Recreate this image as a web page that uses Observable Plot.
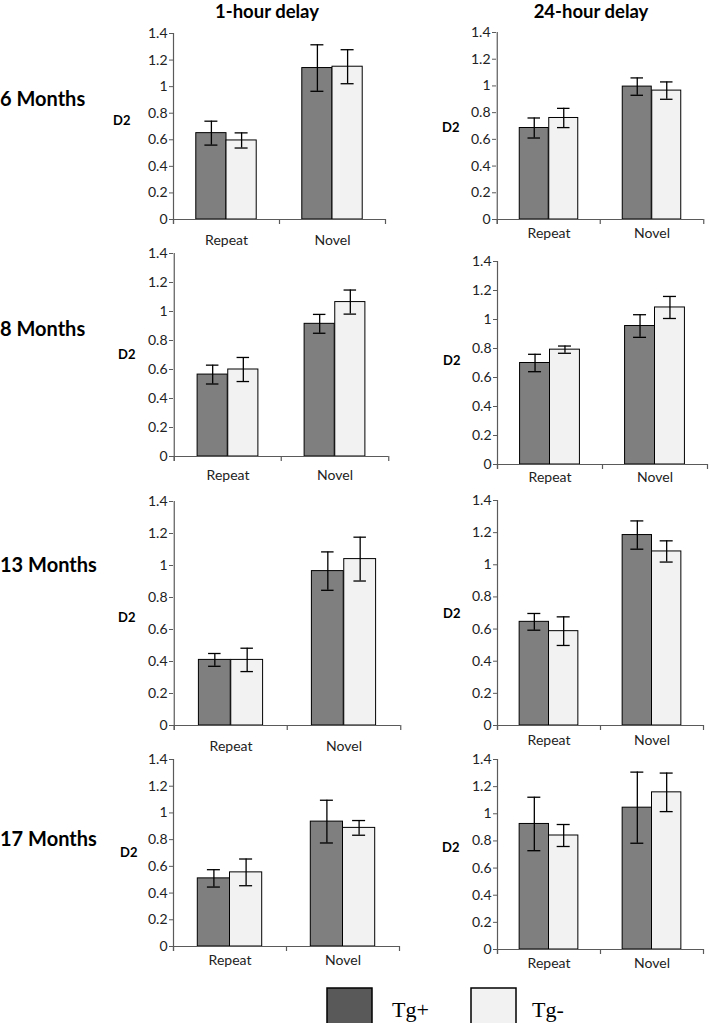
<!DOCTYPE html>
<html>
<head>
<meta charset="utf-8">
<script src="https://cdn.jsdelivr.net/npm/d3@7"></script>
<script src="https://cdn.jsdelivr.net/npm/@observablehq/plot@0.6"></script>
<style>
  html, body { margin: 0; padding: 0; background: #fff; }
  #root { position: relative; width: 709px; height: 1023px; overflow: hidden; }
  #root svg.panel { position: absolute; overflow: visible; }
  #overlay { position: absolute; left: 0; top: 0; }
</style>
</head>
<body>
<div id="root"></div>
<script>
// ---------------- data ----------------
const categories = ["Repeat", "Novel"];
const groups = ["Tg+", "Tg-"];
const ages = ["6 Months", "8 Months", "13 Months", "17 Months"];
const delays = ["1-hour delay", "24-hour delay"];
const yTicks = [0, 0.2, 0.4, 0.6, 0.8, 1, 1.2, 1.4];
const yLabel = "D2";

// means and error bars, indexed [age][category]
const mean1hTgPlus   = [[0.65, 1.14], [0.565, 0.915], [0.41, 0.965], [0.51, 0.935]];
const err1hTgPlus    = [[0.09, 0.175], [0.065, 0.065], [0.04, 0.12], [0.065, 0.16]];
const mean1hTgMinus  = [[0.595, 1.15], [0.60, 1.065], [0.41, 1.04], [0.555, 0.888]];
const err1hTgMinus   = [[0.057, 0.128], [0.083, 0.083], [0.073, 0.137], [0.10, 0.055]];
const mean24hTgPlus  = [[0.685, 0.995], [0.70, 0.955], [0.645, 1.185], [0.925, 1.045]];
const err24hTgPlus   = [[0.075, 0.065], [0.06, 0.078], [0.052, 0.088], [0.197, 0.262]];
const mean24hTgMinus = [[0.76, 0.965], [0.792, 1.083], [0.587, 1.083], [0.84, 1.158]];
const err24hTgMinus  = [[0.072, 0.065], [0.025, 0.076], [0.089, 0.066], [0.081, 0.142]];

// ---------------- layout / style ----------------
const FONT = "Lato, 'Open Sans', 'DejaVu Sans', sans-serif";
const barFill = {"Tg+": "#7f7f7f", "Tg-": "#f2f2f2"};
const legendFill = {"Tg+": "#595959", "Tg-": "#f2f2f2"};
const axisColor = "#5a5a5a";
const textColor = "#222";

// per panel: y-axis x, x-axis right end, y of top tick, y of zero, category label padding
const layout = [
  [{ax: 173, xr: 385, yt: 33,  yb: 219, pad: 16}, {ax: 496, xr: 703, yt: 32,  yb: 219, pad: 9}],
  [{ax: 173, xr: 388, yt: 253, yb: 456, pad: 14}, {ax: 497, xr: 707, yt: 261, yb: 464, pad: 8}],
  [{ax: 173, xr: 400, yt: 501, yb: 725, pad: 16}, {ax: 497, xr: 703, yt: 500, yb: 725, pad: 10}],
  [{ax: 173, xr: 399, yt: 759, yb: 946, pad: 9},  {ax: 497, xr: 703, yt: 759, yb: 949, pad: 9}]
];
const d2Pos = [
  [{x: 113, y: 125}, {x: 442, y: 132}],
  [{x: 118, y: 359}, {x: 443, y: 365}],
  [{x: 118, y: 622}, {x: 443, y: 618}],
  [{x: 120, y: 857}, {x: 442, y: 852}]
];
const rowLabelBaseline = [106, 336, 572, 846];
const titleX = [267, 591];

const root = document.getElementById("root");

// ---------------- overlay text ----------------
const overlay = d3.select(root).append("svg")
  .attr("id", "overlay").attr("width", 709).attr("height", 1023)
  .style("font-family", FONT);

overlay.selectAll("text.title").data(delays).join("text")
  .attr("class", "title")
  .attr("x", (d, i) => titleX[i]).attr("y", 18)
  .attr("text-anchor", "middle")
  .attr("font-size", 18.5).attr("font-weight", 700).attr("fill", "#000")
  .text(d => d);

overlay.selectAll("text.row").data(ages).join("text")
  .attr("class", "row")
  .attr("x", 0).attr("y", (d, i) => rowLabelBaseline[i])
  .attr("font-size", 20).attr("font-weight", 700).attr("fill", "#000")
  .text(d => d);

d2Pos.flat().forEach(p => {
  overlay.append("text").attr("x", p.x).attr("y", p.y)
    .attr("font-size", 13).attr("font-weight", 700).attr("fill", "#000")
    .text(yLabel);
});

// legend
const legendItems = [
  {g: groups[0], bx: 327, tx: 392},
  {g: groups[1], bx: 471, tx: 532}
];
legendItems.forEach(it => {
  overlay.append("rect").attr("x", it.bx).attr("y", 988).attr("width", 45).attr("height", 45)
    .attr("fill", legendFill[it.g]).attr("stroke", "#000").attr("stroke-width", 1.5);
  overlay.append("text").attr("x", it.tx).attr("y", 1017)
    .attr("font-family", "'Liberation Serif', 'DejaVu Serif', serif")
    .attr("font-size", 22).attr("fill", "#000")
    .text(it.g);
});

// ---------------- panels ----------------
const ml = 40, mr = 8, mt = 4, mb = 36;

function makePanel(meansP, errsP, meansM, errsM, g) {
  const W = g.xr - g.ax, H = g.yb - g.yt;
  const bw = W / categories.length;
  const barW = 0.285 * bw;
  const capHalf = 6.5;
  const tickExt = 5 / (H / 1.4); // 5px below the baseline, in data units
  const rows = categories.flatMap((c, i) => [
    {cat: c, grp: groups[0], v: meansP[i], e: errsP[i]},
    {cat: c, grp: groups[1], v: meansM[i], e: errsM[i]}
  ]);
  const isP = d => d.grp === groups[0];
  const isM = d => d.grp === groups[1];
  const capP = {insetLeft: bw / 2 - barW / 2 - capHalf, insetRight: bw / 2 + barW / 2 - capHalf};
  const capM = {insetLeft: bw / 2 + barW / 2 - capHalf, insetRight: bw / 2 - barW / 2 - capHalf};
  const err = {stroke: "#000", strokeWidth: 1.3};

  const svg = Plot.plot({
    width: W + ml + mr,
    height: H + mt + mb,
    marginLeft: ml, marginRight: mr, marginTop: mt, marginBottom: mb,
    style: {fontFamily: FONT, fontSize: "14px", background: "transparent", overflow: "visible"},
    x: {type: "band", domain: categories, padding: 0, axis: null},
    y: {domain: [0, 1.4], axis: null},
    marks: [
      // bars
      Plot.barY(rows, {filter: isP, x: "cat", y: "v", fill: barFill[groups[0]], stroke: "#000", strokeWidth: 1,
        insetLeft: bw / 2 - barW, insetRight: bw / 2}),
      Plot.barY(rows, {filter: isM, x: "cat", y: "v", fill: barFill[groups[1]], stroke: "#000", strokeWidth: 1,
        insetLeft: bw / 2, insetRight: bw / 2 - barW}),
      // error bars
      Plot.ruleX(rows, {filter: isP, x: "cat", y1: d => d.v - d.e, y2: d => d.v + d.e, dx: -barW / 2, ...err}),
      Plot.ruleX(rows, {filter: isM, x: "cat", y1: d => d.v - d.e, y2: d => d.v + d.e, dx: barW / 2, ...err}),
      Plot.tickY(rows, {filter: isP, x: "cat", y: d => d.v + d.e, ...err, ...capP}),
      Plot.tickY(rows, {filter: isP, x: "cat", y: d => d.v - d.e, ...err, ...capP}),
      Plot.tickY(rows, {filter: isM, x: "cat", y: d => d.v + d.e, ...err, ...capM}),
      Plot.tickY(rows, {filter: isM, x: "cat", y: d => d.v - d.e, ...err, ...capM}),
      // y axis line and ticks
      Plot.ruleX([categories[0]], {x: d => d, y1: -tickExt, y2: 1.4, dx: -bw / 2, stroke: axisColor, strokeWidth: 1.2}),
      Plot.axisY({ticks: yTicks, tickSize: 4, tickPadding: 2, tickFormat: d => String(d),
        stroke: axisColor, fill: textColor, fontSize: 14, label: null}),
      // x axis line and boundary ticks
      Plot.ruleY([0], {stroke: axisColor, strokeWidth: 1.2}),
      Plot.ruleX(categories, {x: d => d, y1: -tickExt, y2: 0, dx: -bw / 2, stroke: axisColor, strokeWidth: 1.2}),
      Plot.ruleX([categories[categories.length - 1]], {x: d => d, y1: -tickExt, y2: 0, dx: bw / 2, stroke: axisColor, strokeWidth: 1.2}),
      // category labels
      Plot.axisX({ticks: categories, tickSize: 0, tickPadding: g.pad, fill: textColor, fontSize: 14, label: null})
    ]
  });
  svg.classList.add("panel");
  svg.style.left = (g.ax - ml) + "px";
  svg.style.top = (g.yt - mt) + "px";
  root.appendChild(svg);
}

ages.forEach((a, r) => {
  makePanel(mean1hTgPlus[r], err1hTgPlus[r], mean1hTgMinus[r], err1hTgMinus[r], layout[r][0]);
  makePanel(mean24hTgPlus[r], err24hTgPlus[r], mean24hTgMinus[r], err24hTgMinus[r], layout[r][1]);
});
</script>
</body>
</html>
